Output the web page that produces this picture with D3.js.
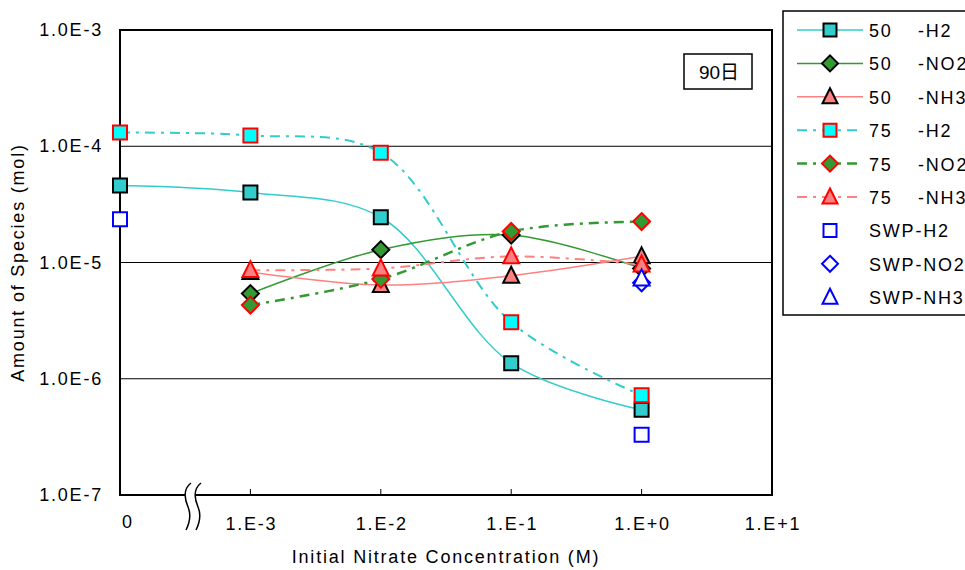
<!DOCTYPE html>
<html>
<head>
<meta charset="utf-8">
<script src="https://cdn.jsdelivr.net/npm/d3@7"></script>
<style>
  body { margin: 0; background: #fff; }
  svg { display: block; font-family: "Liberation Sans", Arial, "Noto Sans CJK JP", sans-serif; }
  svg text { letter-spacing: 1.8px; }
</style>
</head>
<body>
<div id="chart"></div>
<script>
// x positions: "0" is drawn one decade left of 1.E-3
var xLabels = ['0', '1.E-3', '1.E-2', '1.E-1', '1.E+0', '1.E+1'];
var xValues = [1e-4, 1e-3, 1e-2, 1e-1, 1e0, 1e1];
var yTicks = [1e-7, 1e-6, 1e-5, 1e-4, 1e-3];
var yLabels = ['1.0E-7', '1.0E-6', '1.0E-5', '1.0E-4', '1.0E-3'];

// series values (null = no point)
var h2_50   = [4.6e-5, 4.0e-5, 2.45e-5, 1.36e-6, 5.4e-7];
var no2_50  = [null, 5.4e-6, 1.29e-5, 1.72e-5, 8.9e-6];
var nh3_50  = [null, 8.3e-6, 6.4e-6, 7.7e-6, 1.13e-5];
var h2_75   = [1.31e-4, 1.24e-4, 8.8e-5, 3.06e-6, 7.2e-7];
var no2_75  = [null, 4.3e-6, 7.2e-6, 1.85e-5, 2.25e-5];
var nh3_75  = [null, 8.6e-6, 8.9e-6, 1.13e-5, 9.6e-6];
var h2_swp  = [2.35e-5, null, null, null, 3.3e-7];
var no2_swp = [null, null, null, null, 6.7e-6];
var nh3_swp = [null, null, null, null, 7.3e-6];

var seriesNames = ['50', '50', '50', '75', '75', '75', 'SWP', 'SWP', 'SWP'];
var seriesSuffix = ['-H2', '-NO2', '-NH3', '-H2', '-NO2', '-NH3', '-H2', '-NO2', '-NH3'];

var series = [
  {name: seriesNames[0], suf: seriesSuffix[0], values: h2_50, shape: 'square', fill: '#33CCCC', stroke: '#000', line: '#33CCCC', lw: 1.5, dash: null},
  {name: seriesNames[1], suf: seriesSuffix[1], values: no2_50, shape: 'diamond', fill: '#339933', stroke: '#000', line: '#339933', lw: 1.5, dash: null},
  {name: seriesNames[2], suf: seriesSuffix[2], values: nh3_50, shape: 'triangle', fill: '#FF8080', stroke: '#000', line: '#FF8080', lw: 1.5, dash: null},
  {name: seriesNames[3], suf: seriesSuffix[3], values: h2_75, shape: 'square', fill: '#00FFFF', stroke: '#FF0000', line: '#33CCCC', lw: 2, dash: '10,6,3,6'},
  {name: seriesNames[4], suf: seriesSuffix[4], values: no2_75, shape: 'diamond', fill: '#339933', stroke: '#FF0000', line: '#339933', lw: 2.5, dash: '10,6,3,6'},
  {name: seriesNames[5], suf: seriesSuffix[5], values: nh3_75, shape: 'triangle', fill: '#FF8080', stroke: '#FF0000', line: '#FF8080', lw: 2, dash: '10,6,3,6'},
  {name: seriesNames[6], suf: seriesSuffix[6], values: h2_swp, shape: 'square', fill: '#fff', stroke: '#0000FF', line: null},
  {name: seriesNames[7], suf: seriesSuffix[7], values: no2_swp, shape: 'diamond', fill: '#fff', stroke: '#0000FF', line: null},
  {name: seriesNames[8], suf: seriesSuffix[8], values: nh3_swp, shape: 'triangle', fill: '#fff', stroke: '#0000FF', line: null}
];

var width = 965, height = 570;
var plot = {left: 120, right: 772, top: 30, bottom: 495};

var x = d3.scaleLog().domain([1e-4, 1e1]).range([plot.left, plot.right]);
var y = d3.scaleLog().domain([1e-7, 1e-3]).range([plot.bottom, plot.top]);

var svg = d3.select('#chart').append('svg')
  .attr('width', width).attr('height', height);

// gridlines
svg.append('g').selectAll('line')
  .data(yTicks.slice(1, -1))
  .enter().append('line')
  .attr('x1', plot.left).attr('x2', plot.right)
  .attr('y1', function(d) { return y(d); })
  .attr('y2', function(d) { return y(d); })
  .attr('stroke', '#000').attr('stroke-width', 1);

// frame
svg.append('rect')
  .attr('x', plot.left).attr('y', plot.top)
  .attr('width', plot.right - plot.left).attr('height', plot.bottom - plot.top)
  .attr('fill', 'none').attr('stroke', '#000').attr('stroke-width', 2);

// x ticks (inward)
svg.append('g').selectAll('line')
  .data(xValues.slice(1, -1))
  .enter().append('line')
  .attr('x1', function(d) { return x(d); }).attr('x2', function(d) { return x(d); })
  .attr('y1', plot.bottom).attr('y2', plot.bottom - 6)
  .attr('stroke', '#000').attr('stroke-width', 1);

// y labels
svg.append('g').selectAll('text')
  .data(yTicks)
  .enter().append('text')
  .attr('x', 103)
  .attr('y', function(d) { return y(d) + 6; })
  .attr('text-anchor', 'end')
  .attr('font-size', 18)
  .text(function(d, i) { return yLabels[i]; });

// x labels
svg.append('g').selectAll('text')
  .data(xValues)
  .enter().append('text')
  .attr('x', function(d, i) { return i === 0 ? x(d) + 8 : x(d) + 1; })
  .attr('y', function(d, i) { return i === 0 ? 528 : 530; })
  .attr('text-anchor', 'middle')
  .attr('font-size', 18)
  .text(function(d, i) { return xLabels[i]; });

// axis break mark
var brk = svg.append('g');
brk.append('rect').attr('x', 185).attr('y', plot.bottom - 2).attr('width', 10).attr('height', 4).attr('fill', '#fff');
[0, 10].forEach(function(dx) {
  var x0 = 188 + dx;
  brk.append('path')
    .attr('d', 'M' + (x0 + 3) + ',483 C' + (x0 - 6) + ',490 ' + (x0 - 3) + ',500 ' + x0 + ',507 S' + (x0 + 2) + ',522 ' + (x0 - 2) + ',530')
    .attr('fill', 'none').attr('stroke', '#000').attr('stroke-width', 1.5);
});

// titles
svg.append('text')
  .attr('x', (plot.left + plot.right) / 2).attr('y', 563)
  .attr('text-anchor', 'middle').attr('font-size', 18)
  .text('Initial Nitrate Concentration (M)');
svg.append('text')
  .attr('transform', 'translate(24,' + ((plot.top + plot.bottom) / 2) + ') rotate(-90)')
  .attr('text-anchor', 'middle').attr('font-size', 18)
  .text('Amount of Species (mol)');

// marker paths
function markerPath(shape, s) {
  if (shape === 'square') return 'M' + (-s) + ',' + (-s) + 'H' + s + 'V' + s + 'H' + (-s) + 'Z';
  if (shape === 'diamond') return 'M0,' + (-s - 1.5) + 'L' + (s + 1.5) + ',0L0,' + (s + 1.5) + 'L' + (-s - 1.5) + ',0Z';
  return 'M0,' + (-s - 2) + 'L' + (s + 1) + ',' + (s) + 'L' + (-s - 1) + ',' + (s) + 'Z';
}

var line = d3.line()
  .defined(function(d) { return d.v != null; })
  .x(function(d) { return x(d.x); })
  .y(function(d) { return y(d.v); })
  .curve(d3.curveCatmullRom.alpha(0.5));

series.forEach(function(s) {
  var pts = s.values.map(function(v, i) { return {x: xValues[i], v: v}; })
    .filter(function(d) { return d.v != null; });
  var g = svg.append('g');
  if (s.line) {
    g.append('path').datum(pts)
      .attr('d', line)
      .attr('fill', 'none')
      .attr('stroke', s.line)
      .attr('stroke-width', s.lw)
      .attr('stroke-dasharray', s.dash);
  }
  g.selectAll('path.m').data(pts).enter().append('path')
    .attr('class', 'm')
    .attr('transform', function(d) { return 'translate(' + x(d.x) + ',' + y(d.v) + ')'; })
    .attr('d', markerPath(s.shape, 7))
    .attr('fill', s.fill).attr('stroke', s.stroke).attr('stroke-width', 2);
});

// "90日" label box
svg.append('rect').attr('x', 684).attr('y', 54).attr('width', 68).attr('height', 35)
  .attr('fill', '#fff').attr('stroke', '#000').attr('stroke-width', 1.5);
svg.append('text').attr('x', 719).attr('y', 79).attr('text-anchor', 'middle')
  .attr('font-size', 19).style('letter-spacing', '0px').text('90日');

// legend
var leg = svg.append('g');
leg.append('rect').attr('x', 783).attr('y', 11).attr('width', 200).attr('height', 304)
  .attr('fill', '#fff').attr('stroke', '#000').attr('stroke-width', 1.5);
series.forEach(function(s, i) {
  var cy = 30 + i * 33.4;
  if (s.line) {
    leg.append('line').attr('x1', 797).attr('x2', 863).attr('y1', cy).attr('y2', cy)
      .attr('stroke', s.line).attr('stroke-width', s.lw).attr('stroke-dasharray', s.dash);
  }
  leg.append('path').attr('transform', 'translate(830,' + cy + ')')
    .attr('d', markerPath(s.shape, 6.5))
    .attr('fill', s.fill).attr('stroke', s.stroke).attr('stroke-width', 2);
  if (s.name === 'SWP') {
    leg.append('text').attr('x', 869).attr('y', cy + 7).attr('font-size', 18).text(s.name + s.suf);
  } else {
    leg.append('text').attr('x', 869).attr('y', cy + 7).attr('font-size', 18).text(s.name);
    leg.append('text').attr('x', 918).attr('y', cy + 7).attr('font-size', 18).text(s.suf);
  }
});
</script>
</body>
</html>
